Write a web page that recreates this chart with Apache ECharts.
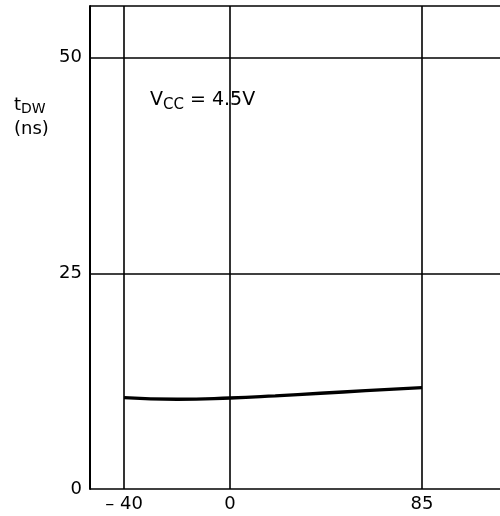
<!DOCTYPE html>
<html><head><meta charset="utf-8">
<script src="https://cdn.jsdelivr.net/npm/echarts@6/dist/echarts.min.js"></script>
<style>html,body{margin:0;padding:0;background:#fff}#c{width:500px;height:516px}</style>
</head><body><div id="c"></div>
<script>
// Data
var temps = [-40, -20, 0, 20, 40, 60, 85];              // ambient temperature (°C)
var tdw   = [10.6, 10.4, 10.55, 10.8, 11.1, 11.4, 11.75]; // tDW (ns)
var xTicks = [-40, 0, 85];
var xTickLabels = ['\u2013 40', '0', '85'];
var yTicks = [0, 25, 50];

// The reference's temperature axis is drawn with a wider scale below 0 °C than above it:
// a piecewise-linear axis transform (negative segment stretched by this factor).
var NEG_STRETCH = 1.173;
function fwd(t){ return t < 0 ? t * NEG_STRETCH : t; }

var FONT = 'DejaVu Sans';
var chart = echarts.init(document.getElementById('c'));
chart.setOption({
  animation: false,
  grid: { left: 90, right: 0, top: 6, bottom: 27, containLabel: false },
  xAxis: {
    type: 'value', min: -62, max: 119.5,
    axisLine: { show: false },
    splitLine: { show: false },
    axisTick: { show: false },
    axisLabel: {
      customValues: xTicks.map(fwd),
      formatter: function(v){
        for (var i = 0; i < xTicks.length; i++) if (Math.abs(fwd(xTicks[i]) - v) < 0.01) return xTickLabels[i];
        return '';
      },
      color: '#000', fontFamily: FONT, fontSize: 18, margin: 6
    }
  },
  yAxis: {
    type: 'value', min: 0, max: 56, interval: 25,
    axisLine: { show: true, onZero: false, lineStyle: { color: '#000', width: 2 } },
    axisTick: { show: false },
    splitLine: { show: true, lineStyle: { color: '#000', width: 1.6 } },
    axisLabel: {
      formatter: function(v){ return yTicks.indexOf(v) >= 0 ? String(v) : ''; },
      color: '#000', fontFamily: FONT, fontSize: 18, margin: 8
    }
  },
  series: [{
    type: 'line',
    data: temps.map(function(t, i){ return [fwd(t), tdw[i]]; }),
    smooth: true, showSymbol: false,
    lineStyle: { color: '#000', width: 3.4 },
    markLine: {
      silent: true, symbol: 'none',
      label: { show: false },
      lineStyle: { color: '#000', width: 1.6, type: 'solid' },
      data: xTicks.map(function(t){ return { xAxis: fwd(t) }; })
    }
  }],
  graphic: [
    { type: 'text', left: 14, top: 96, style: {
        text: '{m|t}{s|DW}\n{m|(ns)}', fill: '#000',
        rich: { m: { fontFamily: FONT, fontSize: 18, lineHeight: 24, fill: '#000' },
                s: { fontFamily: FONT, fontSize: 14, padding: [9, 0, 0, 0], fill: '#000' } } } },
    { type: 'text', left: 150, top: 91, style: {
        text: '{m|V}{s|CC}{m| = 4.5V}', fill: '#000',
        rich: { m: { fontFamily: FONT, fontSize: 19, fill: '#000' },
                s: { fontFamily: FONT, fontSize: 15, padding: [9, 0, 0, 0], fill: '#000' } } } }
  ]
});
</script></body></html>
